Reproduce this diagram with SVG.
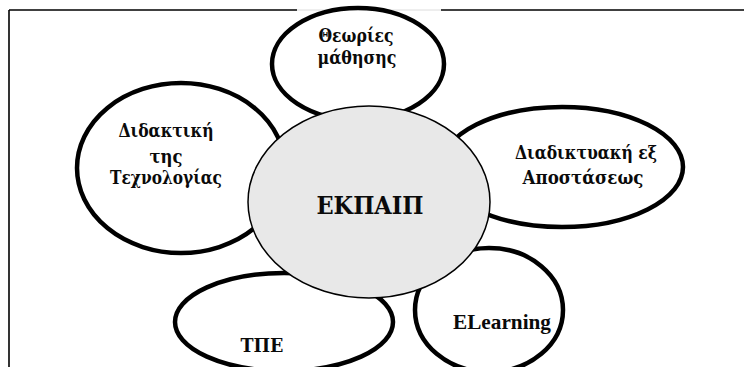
<svg xmlns="http://www.w3.org/2000/svg" width="744" height="367" viewBox="0 0 744 367">
  <style>
    .petal { fill: #ffffff; stroke: #000000; stroke-width: 4.5; }
    .core { fill: #e8e8e8; stroke: #000000; stroke-width: 1.5; }
    .label { font-family: "DejaVu Serif", "Liberation Serif", serif; font-weight: bold; fill: #0a0a0a; text-anchor: middle; }
    .latin { font-family: "Liberation Serif", "Times New Roman", serif; font-weight: bold; fill: #0a0a0a; text-anchor: middle; }
    .frame { stroke: #000000; stroke-width: 1.6; fill: none; }
  </style>

  <rect x="0" y="0" width="744" height="367" fill="#ffffff"/>

  <!-- page frame -->
  <g id="frame">
    <line class="frame" x1="9" y1="10" x2="297" y2="10"/>
    <line x1="297" y1="10" x2="441" y2="10" stroke="#dcdcdc" stroke-width="1"/>
    <line class="frame" x1="441" y1="10" x2="744" y2="10"/>
    <line class="frame" x1="9" y1="10" x2="9" y2="367"/>
  </g>

  <g id="connectors"/>

  <g id="node-theories">
    <ellipse class="petal" cx="358" cy="64" rx="86" ry="56"/>
    <text class="label" x="356" y="42" font-size="18" textLength="75" lengthAdjust="spacingAndGlyphs">Θεωρίες</text>
    <text class="label" x="357" y="64" font-size="18" textLength="79" lengthAdjust="spacingAndGlyphs">μάθησης</text>
  </g>

  <g id="node-didactics">
    <ellipse class="petal" cx="181" cy="168" rx="104" ry="85"/>
    <text class="label" x="166" y="137" font-size="18" textLength="95" lengthAdjust="spacingAndGlyphs">Διδακτική</text>
    <text class="label" x="166" y="163" font-size="18" textLength="33" lengthAdjust="spacingAndGlyphs">της</text>
    <text class="label" x="166" y="184" font-size="18" textLength="112" lengthAdjust="spacingAndGlyphs">Τεχνολογίας</text>
  </g>

  <g id="node-distance">
    <ellipse class="petal" cx="562" cy="167" rx="121" ry="60"/>
    <text class="label" x="586" y="159" font-size="18" textLength="142" lengthAdjust="spacingAndGlyphs">Διαδικτυακή εξ</text>
    <text class="label" x="583" y="184" font-size="18" textLength="121" lengthAdjust="spacingAndGlyphs">Αποστάσεως</text>
  </g>

  <g id="node-tpe">
    <ellipse class="petal" cx="284" cy="322" rx="109" ry="49"/>
    <text class="label" x="262" y="352" font-size="18" textLength="43" lengthAdjust="spacingAndGlyphs">ΤΠΕ</text>
  </g>

  <g id="node-elearning">
    <ellipse class="petal" cx="489" cy="310" rx="74" ry="62"/>
    <text class="latin" x="502" y="329" font-size="22" textLength="98" lengthAdjust="spacingAndGlyphs">ELearning</text>
  </g>

  <g id="node-ekpaip">
    <ellipse class="core" cx="369" cy="202" rx="121" ry="96"/>
    <text class="label" x="370" y="214" font-size="25" textLength="107" lengthAdjust="spacingAndGlyphs">ΕΚΠΑΙΠ</text>
  </g>
</svg>
